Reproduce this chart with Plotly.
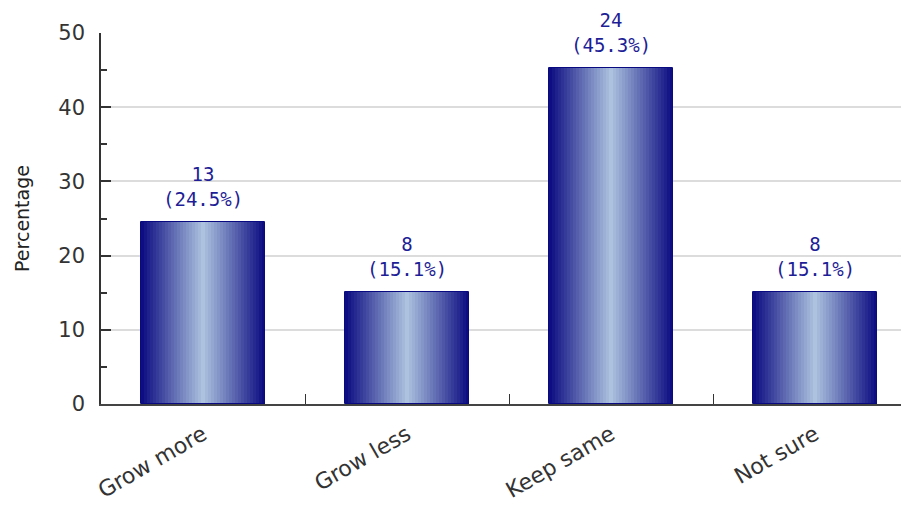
import plotly.graph_objects as go

categories = ["Grow more", "Grow less", "Keep same", "Not sure"]
percentages = [24.5, 15.1, 45.3, 15.1]
counts = [13, 8, 24, 8]
y_ticks = [0, 10, 20, 30, 40, 50]

DARK = (10, 10, 128)
LIGHT = (172, 194, 222)
N = 41
BAR_W = 0.608
w = BAR_W / N

fig = go.Figure()
for i in range(N):
    t = abs((i + 0.5) - N / 2) / (N / 2)
    c = tuple(round(LIGHT[k] * (1 - t) + DARK[k] * t) for k in range(3))
    width = w * 1.6 if i < N - 1 else w
    fig.add_trace(go.Bar(
        x=categories, y=percentages,
        width=[width] * len(categories),
        offset=[-BAR_W / 2 + i * w] * len(categories),
        marker=dict(color="rgb(%d,%d,%d)" % c, line=dict(width=0)),
        showlegend=False, hoverinfo="skip",
    ))
# outline
fig.add_trace(go.Bar(
    x=categories, y=percentages, width=[BAR_W] * len(categories),
    offset=[-BAR_W / 2] * len(categories),
    marker=dict(color="rgba(0,0,0,0)", line=dict(width=1, color="#0a0a80")),
    showlegend=False, hoverinfo="skip",
))

for cat, p, n in zip(categories, percentages, counts):
    fig.add_annotation(
        x=cat, y=p, text="%d<br>(%.1f%%)" % (n, p), showarrow=False,
        yanchor="bottom", yshift=10,
        font=dict(family="DejaVu Sans Mono", size=19, color="#1e1e96"),
    )

fig.update_layout(
    width=909, height=506,
    margin=dict(l=93, r=0, t=25, b=110),
    paper_bgcolor="white", plot_bgcolor="white",
    barmode="overlay", bargap=0,
    font=dict(family="DejaVu Sans", color="#333333"),
    xaxis=dict(
        type="category", range=[-0.5, 3.5],
        tickangle=-30, tickfont=dict(size=22, color="#333333"),
        ticks="inside", ticklen=10, tickcolor="#333333", tickson="boundaries",
        ticklabelstandoff=7,
        showline=True, linecolor="#444444", linewidth=2,
        showgrid=False, fixedrange=True,
    ),
    yaxis=dict(
        range=[0, 50], tickvals=y_ticks,
        tickfont=dict(size=21, color="#333333"),
        ticks="inside", ticklen=10, tickcolor="#333333", tickwidth=1.5,
        ticklabelstandoff=10,
        minor=dict(ticks="inside", ticklen=6, dtick=5, tickcolor="#333333", showgrid=False),
        showline=True, linecolor="#333333", linewidth=1.5,
        showgrid=True, gridcolor="#dcdcdc", gridwidth=1.5,
        zeroline=False,
        title=dict(text="Percentage", font=dict(size=19, color="#222222"), standoff=24),
    ),
)

fig.write_html("out.html")
